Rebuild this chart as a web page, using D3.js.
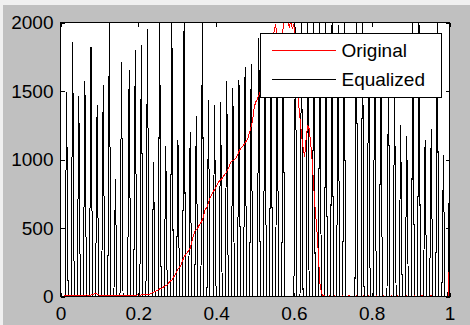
<!DOCTYPE html>
<html>
<head>
<meta charset="utf-8">
<script src="https://cdnjs.cloudflare.com/ajax/libs/d3/7.8.5/d3.min.js"></script>
<style>
  body { margin: 0; background: #c0c0c0; }
  svg { display: block; }
  text { font-family: "Liberation Sans", Arial, sans-serif; }
</style>
</head>
<body>
<svg id="chart" width="470" height="325"></svg>
<script>
// histogram of the original image, 256 bins
const originalCounts = [
  0, 0, 3, 6, 8, 7, 9, 8, 10, 9, 8, 10, 9, 11, 10, 9, 10, 12, 10, 9,
  11, 14, 18, 24, 16, 11, 10, 9, 10, 11, 9, 8, 6, 10, 11, 9, 4, 9, 10, 2,
  8, 10, 9, 11, 10, 9, 10, 11, 10, 9, 11, 12, 10, 11, 12, 13, 14, 15, 17, 20,
  26, 30, 36, 42, 49, 55, 60, 66, 73, 79, 85, 100, 112, 121, 138, 158, 178, 200, 214, 230,
  262, 290, 306, 318, 336, 352, 396, 440, 474, 486, 500, 522, 538, 559, 598, 640, 650, 690, 717, 742,
  765, 778, 800, 826, 840, 852, 862, 880, 896, 911, 935, 962, 984, 992, 1000, 1008, 1032, 1058, 1081, 1092,
  1105, 1122, 1138, 1160, 1200, 1245, 1290, 1380, 1421, 1440, 1470, 1494, 1560, 1620, 1670, 1720, 1770, 1815, 1860, 1900,
  1930, 1985, 1900, 1880, 1850, 1900, 1960, 2040, 2000, 2050, 1960, 2030, 1950, 1990, 1900, 1620, 1420, 1300, 1180, 1090,
  1020, 1150, 1245, 1225, 1120, 990, 800, 630, 500, 320, 100, 30, 8, 4, 3, 2, 4, 3, 2, 3,
  4, 2, 3, 3, 2, 4, 3, 2, 3, 4, 3, 2, 3, 2, 4, 3, 2, 3, 3, 4,
  2, 3, 4, 3, 2, 3, 2, 4, 3, 3, 2, 3, 4, 2, 3, 3, 2, 4, 3, 2,
  3, 4, 3, 2, 3, 3, 2, 4, 3, 2, 3, 3, 4, 2, 3, 2, 3, 4, 3, 2,
  3, 2, 3, 4, 3, 2, 3, 2, 3, 3, 2, 3, 3, 2, 0, 260
];

// equalized histogram: only these grey levels are occupied
const equalizedLevels = [
  4, 8, 12, 16, 20, 24, 28, 32, 36, 40, 45, 49, 53, 57, 61, 65, 69, 73, 77, 81,
  85, 89, 93, 97, 101, 105, 109, 113, 117, 121, 125, 130, 134, 138, 142, 146, 154, 158, 162, 166,
  170, 174, 178, 182, 186, 194, 198, 202, 206, 210, 215, 219, 223, 227, 231, 235, 239, 243, 247, 251,
  255
];
const equalizedCounts = [
  1490, 1860, 1460, 1570, 1820, 1400, 1545, 2000, 860, 1715, 1650, 1800, 1835, 1955, 985, 2000, 1100, 2000, 1142, 2000,
  1200, 1320, 2000, 1435, 1400, 1420, 1570, 1520, 1580, 1675, 1700, 1885, 1850, 1870, 1860, 1890, 1970, 2000, 2000, 2000,
  2000, 2000, 2000, 1985, 2000, 2000, 2000, 1900, 1920, 1790, 1700, 1530, 1250, 1170, 2000, 2000, 1140, 1225, 2000, 1030,
  1000
];

const xTicks = [0, 0.2, 0.4, 0.6, 0.8, 1];
const yTicks = [0, 500, 1000, 1500, 2000];
const seriesNames = ["Original", "Equalized"];
const seriesColors = ["#ff0000", "#000000"];

const svg = d3.select("#chart");

// light strips at the window edge
svg.append("rect").attr("x", 0).attr("y", 0).attr("width", 470).attr("height", 5).attr("fill", "#f0f0f0");
svg.append("rect").attr("x", 0).attr("y", 0).attr("width", 3).attr("height", 325).attr("fill", "#f0f0f0");

const x = d3.scaleLinear().domain([0, 1]).range([60.5, 449.5]);
const y = d3.scaleLinear().domain([0, 2000]).range([296.5, 22.5]);

// full 256 bin table for the equalized image
const equalized = new Array(256).fill(0);
equalizedLevels.forEach((lv, i) => { equalized[lv] = equalizedCounts[i]; });

svg.append("rect")
  .attr("x", x(0)).attr("y", y(2000))
  .attr("width", x(1) - x(0)).attr("height", y(0) - y(2000))
  .attr("fill", "#fff");

svg.append("clipPath").attr("id", "plotclip")
  .append("rect")
  .attr("x", x(0) - 1).attr("y", y(2000) - 0.5)
  .attr("width", x(1) - x(0) + 2).attr("height", y(0) - y(2000) + 1);

const line = d3.line()
  .x((d, i) => x(i / 255))
  .y(d => y(d));

const plot = svg.append("g").attr("clip-path", "url(#plotclip)");

plot.append("path")
  .datum(equalized)
  .attr("d", line)
  .attr("fill", "none")
  .attr("stroke", seriesColors[1])
  .attr("stroke-width", 1)
  .attr("shape-rendering", "crispEdges");

plot.append("path")
  .datum(originalCounts)
  .attr("d", line)
  .attr("fill", "none")
  .attr("stroke", seriesColors[0])
  .attr("stroke-width", 1)
  .attr("shape-rendering", "crispEdges");

// axes box
svg.append("rect")
  .attr("x", x(0)).attr("y", y(2000))
  .attr("width", x(1) - x(0)).attr("height", y(0) - y(2000))
  .attr("fill", "none").attr("stroke", "#000").attr("shape-rendering", "crispEdges");

function styleAxis(g) {
  g.select(".domain").remove();
  g.selectAll(".tick line").attr("stroke", "#000").attr("shape-rendering", "crispEdges");
  g.selectAll("text").attr("fill", "#000").style("font-size", "19px");
}

svg.append("g").attr("transform", `translate(0,${y(0)})`)
  .call(d3.axisBottom(x).tickValues(xTicks).tickSizeInner(-4).tickSizeOuter(0).tickPadding(10).tickFormat(d3.format("")))
  .call(styleAxis);
svg.append("g").attr("transform", `translate(0,${y(2000)})`)
  .call(d3.axisTop(x).tickValues(xTicks).tickSizeInner(-4).tickSizeOuter(0).tickFormat(""))
  .call(styleAxis);
svg.append("g").attr("transform", `translate(${x(0)},0)`)
  .call(d3.axisLeft(y).tickValues(yTicks).tickSizeInner(-4).tickSizeOuter(0).tickPadding(7).tickFormat(d3.format("")))
  .call(styleAxis);
svg.append("g").attr("transform", `translate(${x(1)},0)`)
  .call(d3.axisRight(y).tickValues(yTicks).tickSizeInner(-4).tickSizeOuter(0).tickFormat(""))
  .call(styleAxis);

// legend
const legend = svg.append("g").attr("transform", "translate(260.5,33.5)");
legend.append("rect")
  .attr("width", 181).attr("height", 64)
  .attr("fill", "#fff").attr("stroke", "#000").attr("shape-rendering", "crispEdges");
seriesNames.forEach((name, i) => {
  const ly = 16.5 + i * 29;
  legend.append("line")
    .attr("x1", 11).attr("x2", 75).attr("y1", ly).attr("y2", ly)
    .attr("stroke", seriesColors[i]).attr("shape-rendering", "crispEdges");
  legend.append("text")
    .attr("x", 81).attr("y", ly + 7)
    .style("font-size", "19px").attr("fill", "#000")
    .text(name);
});
</script>
</body>
</html>
